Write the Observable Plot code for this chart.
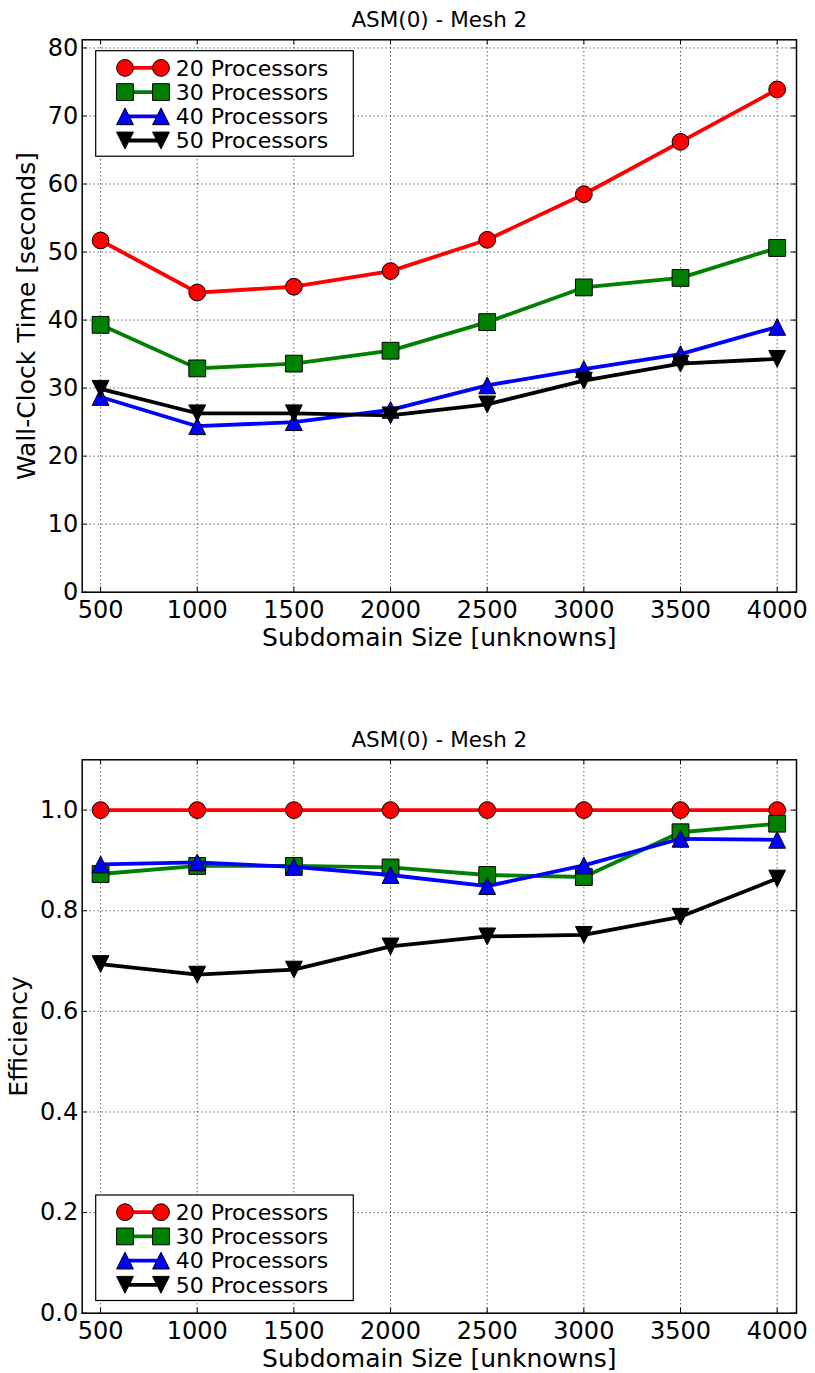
<!DOCTYPE html>
<html>
<head>
<meta charset="utf-8">
<script src="https://cdn.jsdelivr.net/npm/d3@7"></script>
<script src="https://cdn.jsdelivr.net/npm/@observablehq/plot@0.6"></script>
<style>
  html, body { margin: 0; padding: 0; background: #fff; }
  svg { display: block; }
</style>
</head>
<body>
<div id="chart"></div>
<script>
// ---- data ----
const subdomainSizes = [500, 1000, 1500, 2000, 2500, 3000, 3500, 4000];
const seriesNames = ["20 Processors", "30 Processors", "40 Processors", "50 Processors"];
const seriesColors = ["#ff0000", "#008000", "#0000ff", "#000000"];
const seriesSymbols = ["circle", "square", "triangleUp", "triangleDown"];

const time20 = [51.7, 44.05, 44.9, 47.2, 51.8, 58.5, 66.2, 73.9];
const time30 = [39.3, 32.9, 33.6, 35.5, 39.7, 44.8, 46.2, 50.6];
const time40 = [28.7, 24.4, 25.0, 26.8, 30.4, 32.8, 35.0, 39.0];
const time50 = [29.9, 26.3, 26.3, 26.0, 27.6, 31.1, 33.6, 34.3];

const eff20 = [1.0, 1.0, 1.0, 1.0, 1.0, 1.0, 1.0, 1.0];
const eff30 = [0.873, 0.889, 0.889, 0.886, 0.871, 0.867, 0.956, 0.973];
const eff40 = [0.892, 0.896, 0.887, 0.871, 0.849, 0.890, 0.943, 0.941];
const eff50 = [0.694, 0.673, 0.683, 0.729, 0.749, 0.752, 0.788, 0.864];

const xTicks = [500, 1000, 1500, 2000, 2500, 3000, 3500, 4000];
const timeTicks = [0, 10, 20, 30, 40, 50, 60, 70, 80];
const effTicks = [0.0, 0.2, 0.4, 0.6, 0.8, 1.0];

const chartTitle = "ASM(0) - Mesh 2";
const xLabel = "Subdomain Size [unknowns]";
const timeLabel = "Wall-Clock Time [seconds]";
const effLabel = "Efficiency";

// ---- marker symbols (matplotlib-like, bounding box 2r x 2r) ----
const symbolDefs = {
  circle: { draw(ctx, size) { const r = Math.sqrt(size / Math.PI); ctx.moveTo(r, 0); ctx.arc(0, 0, r, 0, 2 * Math.PI); ctx.closePath(); } },
  square: { draw(ctx, size) { const r = Math.sqrt(size / Math.PI); ctx.rect(-r, -r, 2 * r, 2 * r); } },
  triangleUp: { draw(ctx, size) { const r = Math.sqrt(size / Math.PI); ctx.moveTo(0, -r); ctx.lineTo(r, r); ctx.lineTo(-r, r); ctx.closePath(); } },
  triangleDown: { draw(ctx, size) { const r = Math.sqrt(size / Math.PI); ctx.moveTo(0, r); ctx.lineTo(r, -r); ctx.lineTo(-r, -r); ctx.closePath(); } }
};

const W = 815;
const FONT = "DejaVu Sans";
const markerR = 8.4;
const lineW = 3.8;

function makeChart(opts) {
  const { series, yDomain, yTicks, yFormat, yLabel, yLabelDx, height, marginTop, marginBottom, legendPos } = opts;
  const marginLeft = 81.7, marginRight = 19;
  const fw = W - marginLeft - marginRight;
  const fh = height - marginTop - marginBottom;

  const marks = [
    Plot.ruleX(xTicks, { x: d => d, stroke: "#000", strokeWidth: 0.9, strokeDasharray: "1,3" }),
    Plot.ruleY(yTicks, { y: d => d, stroke: "#000", strokeWidth: 0.9, strokeDasharray: "1,3" }),
    Plot.tickX(xTicks, { x: d => d, stroke: "#000", strokeWidth: 1, insetTop: fh - 5 }),
    Plot.tickX(xTicks, { x: d => d, stroke: "#000", strokeWidth: 1, insetBottom: fh - 5 }),
    Plot.tickY(yTicks, { y: d => d, stroke: "#000", strokeWidth: 1, insetRight: fw - 5 }),
    Plot.tickY(yTicks, { y: d => d, stroke: "#000", strokeWidth: 1, insetLeft: fw - 5 })
  ];

  series.forEach((vals, i) => {
    const data = subdomainSizes.map((x, j) => ({ x, y: vals[j] }));
    marks.push(Plot.line(data, { x: "x", y: "y", stroke: seriesColors[i], strokeWidth: lineW, strokeLinejoin: "round", strokeLinecap: "round" }));
    marks.push(Plot.dot(data, { x: "x", y: "y", r: markerR, symbol: symbolDefs[seriesSymbols[i]], fill: seriesColors[i], stroke: "#000", strokeWidth: 1 }));
  });

  marks.push(Plot.frame({ stroke: "#000", strokeWidth: 1.5 }));
  marks.push(Plot.axisX({ ticks: xTicks, tickSize: 0, tickPadding: 9, fontSize: 24, label: null, tickFormat: d => String(d) }));
  marks.push(Plot.axisY({ ticks: yTicks, tickSize: 0, tickPadding: 4, fontSize: 24, label: null, tickFormat: yFormat }));
  marks.push(Plot.text([chartTitle], { frameAnchor: "top", lineAnchor: "bottom", textAnchor: "middle", dy: -13.3, fontSize: 21.5, fill: "#000" }));
  marks.push(Plot.text([xLabel], { frameAnchor: "bottom", lineAnchor: "bottom", textAnchor: "middle", dy: 53.3, fontSize: 25, fill: "#000" }));
  marks.push(Plot.text([yLabel], { frameAnchor: "left", lineAnchor: "bottom", textAnchor: "middle", rotate: -90, dx: yLabelDx, fontSize: 25, fill: "#000" }));

  const svg = Plot.plot({
    width: W, height, marginTop, marginBottom, marginLeft, marginRight,
    style: { fontFamily: FONT, fontSize: "24px", background: "#fff", overflow: "visible", color: "#000" },
    x: { domain: [405, 4100], axis: null, label: null },
    y: { domain: yDomain, axis: null, label: null },
    marks
  });

  // legend (drawn inside the plot's svg)
  const g = d3.select(svg).append("g").attr("font-family", FONT).attr("text-anchor", "start");
  const boxW = 257.6, boxH = 105.5;
  g.append("rect").attr("x", legendPos.x).attr("y", legendPos.y).attr("width", boxW).attr("height", boxH)
    .attr("fill", "#fff").attr("stroke", "#000").attr("stroke-width", 1.2);
  seriesNames.forEach((name, i) => {
    const cy = legendPos.y + 17.2 + i * 24.2;
    const x1 = legendPos.x + 29.3, x2 = legendPos.x + 65.3;
    g.append("line").attr("x1", x1).attr("x2", x2).attr("y1", cy).attr("y2", cy)
      .attr("stroke", seriesColors[i]).attr("stroke-width", lineW);
    const sym = d3.symbol().type(symbolDefs[seriesSymbols[i]]).size(Math.PI * markerR * markerR);
    [x1, x2].forEach(x => {
      g.append("path").attr("d", sym()).attr("transform", `translate(${x},${cy})`)
        .attr("fill", seriesColors[i]).attr("stroke", "#000").attr("stroke-width", 1);
    });
    g.append("text").attr("x", legendPos.x + 80).attr("y", cy + 7.8).attr("font-size", 22)
      .attr("text-anchor", "start").attr("fill", "#000").text(name);
  });
  return svg;
}

const topChart = makeChart({
  series: [time20, time30, time40, time50],
  yDomain: [0, 81.2], yTicks: timeTicks, yFormat: d => String(d),
  yLabel: timeLabel, yLabelDx: 35 - 81.7,
  height: 686, marginTop: 39.3, marginBottom: 94.3,
  legendPos: { x: 95.7, y: 50.7 }
});
const bottomChart = makeChart({
  series: [eff20, eff30, eff40, eff50],
  yDomain: [0, 1.1], yTicks: effTicks, yFormat: d3.format(".1f"),
  yLabel: effLabel, yLabelDx: 26.7 - 81.7,
  height: 687, marginTop: 73.3, marginBottom: 60.3,
  legendPos: { x: 95.7, y: 1195 - 686 }
});
document.getElementById("chart").append(topChart, bottomChart);
</script>
</body>
</html>
